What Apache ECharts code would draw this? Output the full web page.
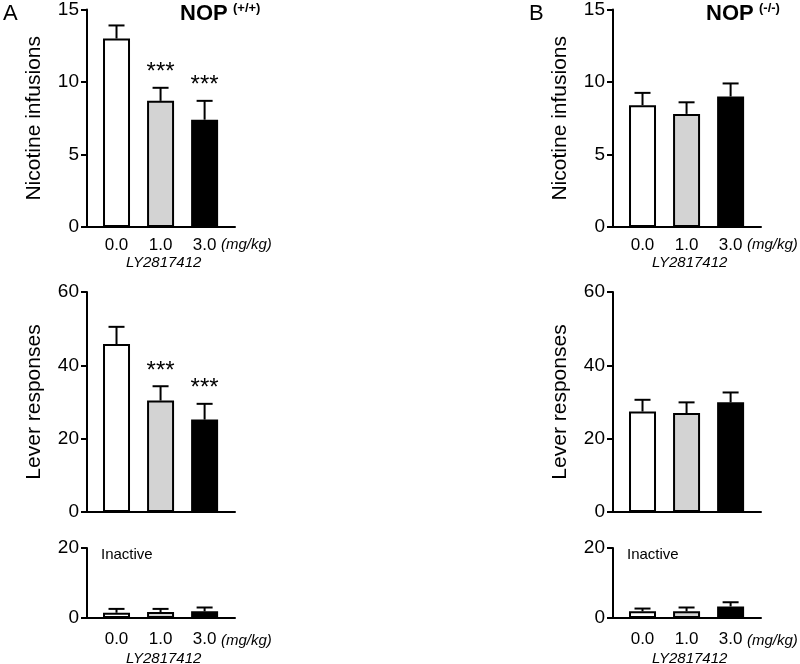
<!DOCTYPE html>
<html>
<head>
<meta charset="utf-8">
<script src="https://cdn.jsdelivr.net/npm/echarts@6/dist/echarts.min.js"></script>
<style>
  html, body { margin: 0; padding: 0; background: #fff; }
  #chart { width: 800px; height: 664px; }
</style>
</head>
<body>
<div id="chart"></div>
<script>
// doses of LY2817412 (mg/kg)
const doses = ['0.0', '1.0', '3.0']
const barColors = ['#ffffff', '#d3d3d3', '#000000']

// A: NOP (+/+)
const infusionsA = [13.0, 8.7, 7.4]
const infusionsASem = [0.9, 0.9, 1.3]
const leverA = [45.8, 30.4, 25.2]
const leverASem = [4.7, 3.9, 4.3]
const inactiveA = [1.5, 1.7, 1.9]
const inactiveASem = [1.1, 0.9, 1.1]
const sigA = ['', '***', '***']

// B: NOP (-/-)
const infusionsB = [8.4, 7.8, 9.0]
const infusionsBSem = [0.85, 0.8, 0.9]
const leverB = [27.4, 27.0, 29.9]
const leverBSem = [3.2, 2.9, 2.7]
const inactiveB = [1.9, 1.9, 3.3]
const inactiveBSem = [0.8, 1.1, 1.2]
const noSig = ['', '', '']

const FONT = 'Liberation Sans, Arial, sans-serif'

// layout
const colLeft = [87, 613]
const rows = [
  { top: 7, height: 220, max: 15, step: 5, name: 'Nicotine infusions', labels: true, margin: 10 },
  { top: 292, height: 220, max: 60, step: 20, name: 'Lever responses', labels: false, margin: 10 },
  { top: 548, height: 70, max: 20, step: 20, name: '', labels: true, margin: 13 }
]

const panels = [
  { col: 0, row: 0, vals: infusionsA, sem: infusionsASem, sig: sigA },
  { col: 0, row: 1, vals: leverA, sem: leverASem, sig: sigA },
  { col: 0, row: 2, vals: inactiveA, sem: inactiveASem, sig: noSig },
  { col: 1, row: 0, vals: infusionsB, sem: infusionsBSem, sig: noSig },
  { col: 1, row: 1, vals: leverB, sem: leverBSem, sig: noSig },
  { col: 1, row: 2, vals: inactiveB, sem: inactiveBSem, sig: noSig }
]

const grid = [], xAxis = [], yAxis = [], series = []

panels.forEach((p, i) => {
  const r = rows[p.row]
  grid.push({ left: colLeft[p.col], top: r.top, width: 148, height: r.height })
  xAxis.push({
    gridIndex: i,
    type: 'value',
    min: -0.67,
    max: 2.69,
    axisLine: { show: true, onZero: false, lineStyle: { color: '#000', width: 2 } },
    axisTick: { show: false },
    splitLine: { show: false },
    axisLabel: {
      show: r.labels,
      customValues: [0, 1, 2],
      formatter: v => doses[Math.round(v)],
      color: '#000',
      fontFamily: FONT,
      fontSize: 17,
      margin: r.margin
    }
  })
  yAxis.push({
    gridIndex: i,
    type: 'value',
    min: 0,
    max: r.max,
    interval: r.step,
    name: r.name,
    nameLocation: 'middle',
    nameGap: 42,
    nameTextStyle: { color: '#000', fontFamily: FONT, fontSize: 21 },
    axisLine: { show: true, onZero: false, lineStyle: { color: '#000', width: 2 } },
    axisTick: { show: true, length: 6, lineStyle: { color: '#000', width: 2 } },
    splitLine: { show: false },
    axisLabel: { color: '#000', fontFamily: FONT, fontSize: 19, margin: 8 }
  })
  series.push({
    type: 'bar',
    xAxisIndex: i,
    yAxisIndex: i,
    barWidth: 27,
    data: p.vals.map((v, k) => [k, v]),
    itemStyle: {
      color: params => barColors[params.dataIndex],
      borderColor: '#000',
      borderWidth: 2
    },
    silent: true,
    animation: false
  })
  // upper error bars + significance stars
  series.push({
    type: 'custom',
    xAxisIndex: i,
    yAxisIndex: i,
    data: p.vals.map((v, k) => [k, v, p.sem[k]]),
    renderItem: (params, api) => {
      const base = api.coord([api.value(0), api.value(1)])
      const top = api.coord([api.value(0), api.value(1) + api.value(2)])
      const style = { stroke: '#000', lineWidth: 2 }
      const children = [
        { type: 'line', shape: { x1: base[0], y1: base[1], x2: top[0], y2: top[1] }, style },
        { type: 'line', shape: { x1: top[0] - 8, y1: top[1], x2: top[0] + 8, y2: top[1] }, style }
      ]
      const s = p.sig[params.dataIndex]
      if (s) {
        children.push({
          type: 'text',
          style: {
            text: s, x: top[0], y: top[1] - 15,
            align: 'center', verticalAlign: 'middle',
            fill: '#000', font: '24px ' + FONT
          }
        })
      }
      return { type: 'group', children }
    },
    silent: true,
    animation: false
  })
})

// panel letters, titles and annotations
const letters = ['A', 'B']
const letterLeft = [3, 529]
const genotypes = ['(+/+)', '(-/-)']
const graphic = []
colLeft.forEach((x0, c) => {
  const dx = x0 - colLeft[0]
  graphic.push(
    { type: 'text', left: letterLeft[c], top: 3, style: { text: letters[c], font: '22px ' + FONT, fill: '#000' } },
    { type: 'text', left: 180 + dx, top: 3, style: { text: 'NOP', font: 'bold 22px ' + FONT, fill: '#000' } },
    { type: 'text', left: 233 + dx, top: 2, style: { text: genotypes[c], font: 'bold 13px ' + FONT, fill: '#000' } },
    { type: 'text', left: 101 + dx, top: 547, style: { text: 'Inactive', font: '15px ' + FONT, fill: '#000' } }
  )
  ;[237, 633].forEach(y => {
    graphic.push(
      { type: 'text', left: 221 + dx, top: y, style: { text: '(mg/kg)', font: 'italic 15px ' + FONT, fill: '#000' } },
      { type: 'text', left: 126 + dx, top: y + 18, style: { text: 'LY2817412', font: 'italic 15px ' + FONT, fill: '#000' } }
    )
  })
})

const myChart = echarts.init(document.getElementById('chart'))
myChart.setOption({
  animation: false,
  backgroundColor: '#fff',
  grid,
  xAxis,
  yAxis,
  series,
  graphic
})
</script>
</body>
</html>
